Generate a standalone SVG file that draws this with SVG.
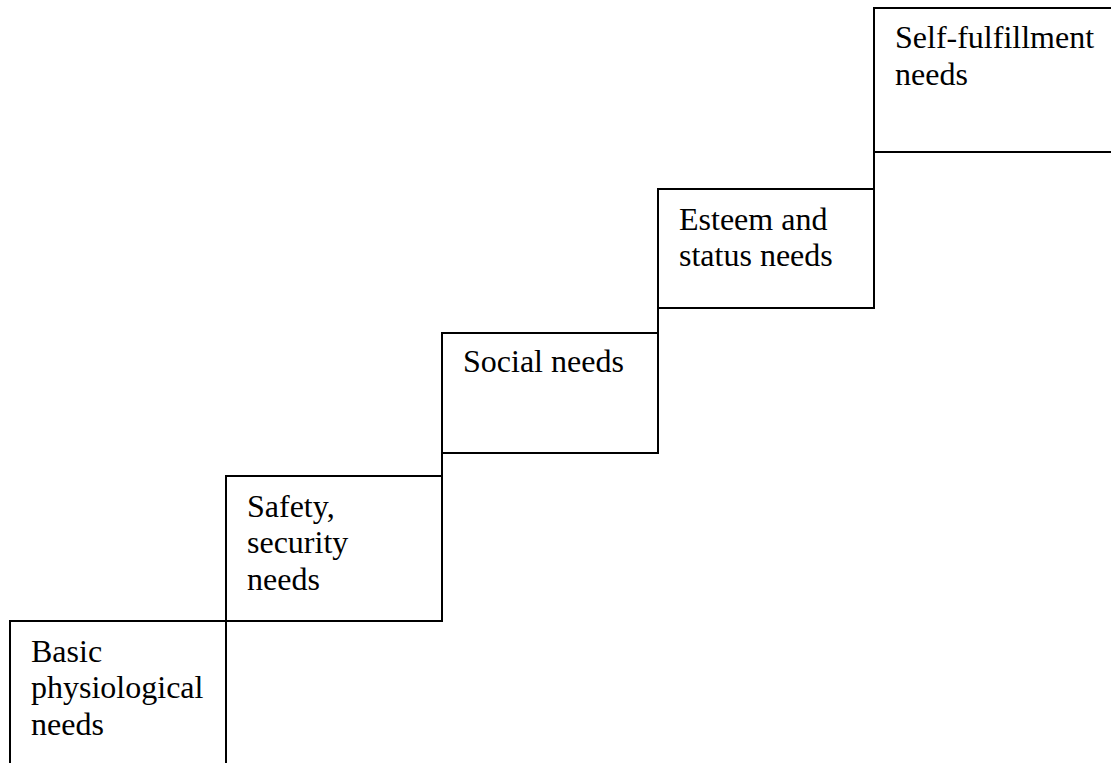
<svg xmlns="http://www.w3.org/2000/svg" width="1111" height="763" viewBox="0 0 1111 763">
<style>
.box{fill:#fff;stroke:#000;stroke-width:2}
.ln{stroke:#000;stroke-width:2;fill:none}
.t{font-family:"Liberation Serif","Times New Roman",serif;font-size:32px;fill:#000}
</style>
<rect width="1111" height="763" fill="#fff"/>
<g id="basic">
<rect class="box" x="10" y="621" width="216" height="200"/>
<text class="t" x="31" y="661.5">Basic</text>
<text class="t" x="31" y="698">physiological</text>
<text class="t" x="31" y="734.5">needs</text>
</g>
<g id="safety">
<rect class="box" x="226" y="476" width="216" height="145"/>
<text class="t" x="247" y="516.5">Safety,</text>
<text class="t" x="247" y="553">security</text>
<text class="t" x="247" y="589.5">needs</text>
</g>
<g id="social">
<rect class="box" x="442" y="333" width="216" height="120"/>
<text class="t" x="463" y="372">Social needs</text>
</g>
<g id="esteem">
<rect class="box" x="658" y="189" width="216" height="119"/>
<text class="t" x="679" y="229.5">Esteem and</text>
<text class="t" x="679" y="266">status needs</text>
</g>
<g id="self">
<rect class="box" x="874" y="8" width="260" height="144"/>
<text class="t" x="895" y="48">Self-fulfillment</text>
<text class="t" x="895" y="84.5">needs</text>
</g>
<g id="connectors">
<line class="ln" x1="442" y1="453" x2="442" y2="476"/>
<line class="ln" x1="658" y1="308" x2="658" y2="333"/>
<line class="ln" x1="874" y1="152" x2="874" y2="189"/>
</g>
</svg>
